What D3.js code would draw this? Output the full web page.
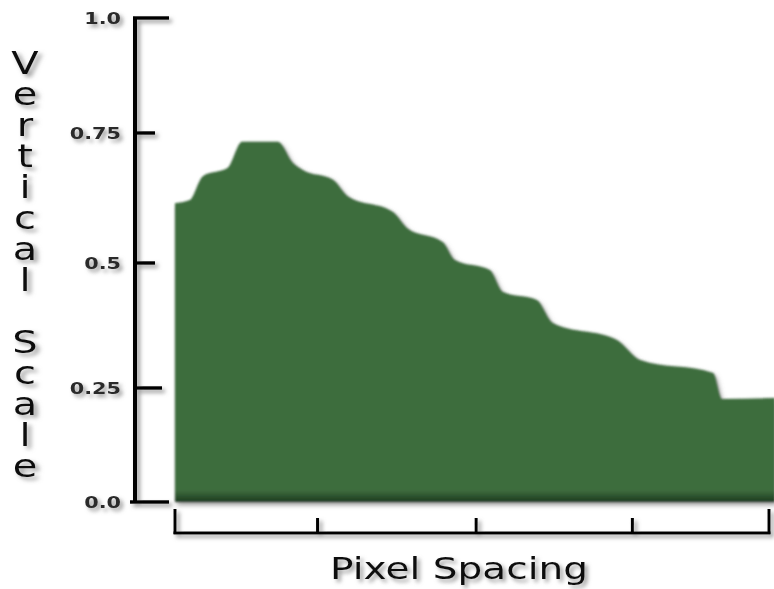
<!DOCTYPE html>
<html>
<head>
<meta charset="utf-8">
<script src="https://cdn.jsdelivr.net/npm/d3@7/dist/d3.min.js"></script>
<style>
  html, body { margin: 0; padding: 0; background: #ffffff; }
  svg { display: block; }
</style>
</head>
<body>
<script>
// ---- data ----
const yTicks = [0, 0.25, 0.5, 0.75, 1.0];
const yTickLabels = ["0.0", "0.25", "0.5", "0.75", "1.0"];
const xTicks = [0, 0.24, 0.507, 0.77, 1];
// profile of the area (x as fraction of the pixel-spacing axis, y = vertical scale)
const profileX = [0, 0.025, 0.047, 0.089, 0.113, 0.173, 0.199, 0.215, 0.266, 0.290, 0.367, 0.391,
                  0.451, 0.471, 0.530, 0.552, 0.609, 0.636, 0.744, 0.783, 0.906, 0.921, 1.01];
const profileY = [0.615, 0.621, 0.667, 0.683, 0.733, 0.733, 0.692, 0.679, 0.660, 0.629, 0.598, 0.567,
                  0.540, 0.506, 0.486, 0.442, 0.426, 0.380, 0.346, 0.306, 0.280, 0.226, 0.228];
const yTitle = "Vertical Scale";
const xTitle = "Pixel Spacing";

// ---- layout ----
const W = 774, H = 589;
const svg = d3.select("body").append("svg").attr("width", W).attr("height", H);

const x = d3.scaleLinear().domain([0, 1]).range([175, 769]);
const y = d3.scaleLinear().domain(yTicks).range([502, 388, 263, 133, 18]);

const defs = svg.append("defs");
const sh = defs.append("filter").attr("id", "shadow")
  .attr("x", "-20%").attr("y", "-20%").attr("width", "160%").attr("height", "160%");
sh.append("feDropShadow").attr("dx", 3).attr("dy", 3).attr("stdDeviation", 2)
  .attr("flood-color", "#777").attr("flood-opacity", 0.75);

const af = defs.append("filter").attr("id", "areaFx")
  .attr("x", "-5%").attr("y", "-5%").attr("width", "110%").attr("height", "115%");
af.append("feGaussianBlur").attr("in", "SourceAlpha").attr("stdDeviation", 2.5).attr("result", "b");
af.append("feOffset").attr("in", "b").attr("dx", 2).attr("dy", 3).attr("result", "o");
af.append("feFlood").attr("flood-color", "#6f6f6f").attr("flood-opacity", 0.7).attr("result", "c");
af.append("feComposite").attr("in", "c").attr("in2", "o").attr("operator", "in").attr("result", "s");
af.append("feGaussianBlur").attr("in", "SourceGraphic").attr("stdDeviation", 1.1).attr("result", "g");
const fm = af.append("feMerge");
fm.append("feMergeNode").attr("in", "s");
fm.append("feMergeNode").attr("in", "g");

const grad = defs.append("linearGradient").attr("id", "areaGrad")
  .attr("gradientUnits", "userSpaceOnUse").attr("x1", 0).attr("x2", 0)
  .attr("y1", y(0) - 12).attr("y2", y(0));
grad.append("stop").attr("offset", 0).attr("stop-color", "#3e6d3e");
grad.append("stop").attr("offset", 1).attr("stop-color", "#1d3a1f");

// ---- area ----
const pts = profileX.map((d, i) => [d, profileY[i]]);
const area = d3.area().x(d => x(d[0])).y0(y(0)).y1(d => y(d[1])).curve(d3.curveMonotoneX);
svg.append("path").datum(pts).attr("d", area)
  .attr("fill", "url(#areaGrad)").attr("filter", "url(#areaFx)");

// ---- y axis ----
const yAxisG = svg.append("g").attr("filter", "url(#shadow)");
yAxisG.append("line").attr("x1", 135).attr("x2", 135).attr("y1", y(1) - 1).attr("y2", y(0) + 1)
  .attr("stroke", "#000").attr("stroke-width", 4);
yAxisG.selectAll("line.tk").data(yTicks).join("line").attr("class", "tk")
  .attr("x1", d => (d === 0 ? 130 : 133))
  .attr("x2", d => (d === 0 || d === 1) ? 169 : (d === 0.25 ? 162 : 155))
  .attr("y1", d => y(d)).attr("y2", d => y(d))
  .attr("stroke", "#000").attr("stroke-width", 3.5);

const tl = svg.append("g").attr("filter", "url(#shadow)");
tl.selectAll("text").data(yTicks).join("text")
  .attr("transform", d => `translate(121,${y(d) + 6}) scale(1.3,1)`)
  .attr("text-anchor", "end")
  .attr("font-family", "DejaVu Sans, Verdana, sans-serif")
  .attr("font-weight", "bold").attr("font-size", 16)
  .attr("fill", "#2a2a2a")
  .text((d, i) => yTickLabels[i]);

// ---- x axis ----
const xAxisG = svg.append("g").attr("filter", "url(#shadow)");
xAxisG.append("line").attr("x1", x(0) - 1.5).attr("x2", x(1) + 1.5).attr("y1", 533).attr("y2", 533)
  .attr("stroke", "#000").attr("stroke-width", 3);
xAxisG.selectAll("line.tk").data(xTicks).join("line").attr("class", "tk")
  .attr("x1", d => x(d)).attr("x2", d => x(d))
  .attr("y1", d => (d === 0 || d === 1) ? 509 : 518).attr("y2", 534)
  .attr("stroke", "#000").attr("stroke-width", 3);

// ---- titles ----
svg.append("text").attr("filter", "url(#shadow)")
  .attr("x", 459).attr("y", 579).attr("text-anchor", "middle")
  .attr("font-family", "DejaVu Sans, Verdana, sans-serif").attr("font-size", 30)
  .attr("fill", "#111")
  .attr("textLength", 258).attr("lengthAdjust", "spacingAndGlyphs")
  .text(xTitle);

const yt = svg.append("g").attr("filter", "url(#shadow)")
  .attr("transform", "translate(25,0) scale(1.25,1)");
yt.append("text")
  .attr("font-family", "DejaVu Sans, Verdana, sans-serif").attr("font-size", 32)
  .attr("fill", "#111").attr("text-anchor", "middle")
  .selectAll("tspan").data(yTitle.split("")).join("tspan")
  .attr("x", 0).attr("y", (d, i) => 74 + i * 31)
  .text(d => d);
</script>
</body>
</html>
